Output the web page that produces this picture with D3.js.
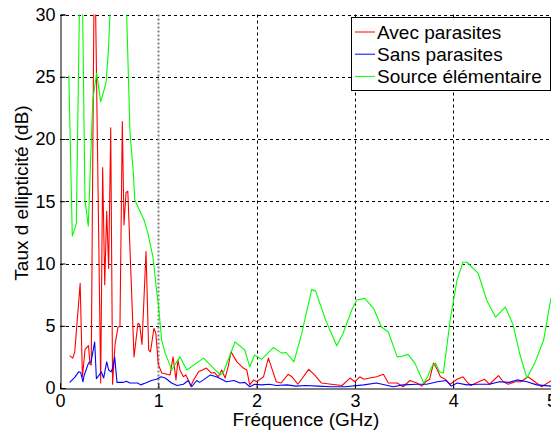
<!DOCTYPE html>
<html>
<head>
<meta charset="utf-8">
<title>Taux d'ellipticité</title>
<script src="https://d3js.org/d3.v7.min.js"></script>
<style>
  body { margin: 0; background: #fff; }
  text { font-family: "Liberation Sans", Arial, sans-serif; }
</style>
</head>
<body>
<script>
// frequencies (GHz) and ellipticity (dB)
var avecParasites = [
  [0.099,2.6],[0.13,2.4],[0.15,2.9],[0.205,8.4],[0.228,0.9],[0.255,3.1],[0.29,3.4],
  [0.305,1.9],[0.318,1.85],[0.345,30.5],[0.362,30.5],[0.414,0.4],[0.434,17.7],
  [0.455,8.3],[0.475,14.2],[0.495,9.6],[0.516,20.9],[0.535,0.3],[0.56,3.5],[0.59,4.9],
  [0.61,4.95],[0.634,21.4],[0.651,13.1],[0.672,15.7],[0.69,15.8],[0.753,2.5],[0.793,5.2],
  [0.81,5.1],[0.834,3.5],[0.875,10.95],[0.902,3.05],[0.92,2.9],[0.956,4.8],[0.975,4.4],
  [1.0,1.9],[1.035,1.2],[1.12,1.05],[1.15,2.5],[1.18,0.65],[1.2,2.25],[1.22,1.45],
  [1.255,0.9],[1.28,1.05],[1.305,0.65],[1.33,0.15],[1.36,0.65],[1.41,1.3],[1.49,1.6],
  [1.54,1.2],[1.57,1.25],[1.61,0.9],[1.645,1.45],[1.68,0.8],[1.71,1.7],[1.74,2.9],
  [1.8,2.1],[1.865,1.6],[1.9,1.45],[1.93,0.25],[1.97,0.65],[2.0,0.5],[2.07,0.9],
  [2.12,2.4],[2.15,1.7],[2.2,0.5],[2.25,0.4],[2.32,1.1],[2.36,0.9],[2.42,0.3],
  [2.53,1.5],[2.59,1.05],[2.66,0.4],[2.76,0.3],[2.87,0.2],[2.95,0.8],[3.0,0.5],
  [3.05,0.9],[3.09,0.7],[3.15,0.8],[3.22,0.9],[3.29,1.1],[3.34,0.4],[3.43,0.4],
  [3.49,0.1],[3.56,0.6],[3.63,0.4],[3.68,0.15],[3.72,0.5],[3.76,0.7],[3.8,2.0],
  [3.83,1.6],[3.87,0.9],[3.92,0.7],[3.97,0.3],[4.04,0.7],[4.1,0.9],[4.15,0.4],
  [4.18,0.2],[4.26,0.5],[4.32,0.7],[4.37,0.3],[4.46,1.0],[4.51,0.5],[4.56,0.3],
  [4.63,0.5],[4.69,0.5],[4.76,0.9],[4.83,0.5],[4.9,0.1],[5.0,0.6]
];

var sansParasites = [
  [0.099,0.45],[0.15,0.85],[0.19,1.3],[0.21,1.25],[0.234,0.5],[0.245,1.0],[0.29,2.0],
  [0.316,2.1],[0.353,3.7],[0.37,0.75],[0.41,1.15],[0.42,1.3],[0.444,0.8],[0.475,2.1],
  [0.495,1.45],[0.52,1.3],[0.54,1.7],[0.556,2.5],[0.58,0.45],[0.64,0.45],[0.675,0.55],
  [0.71,0.4],[0.79,0.4],[0.82,0.25],[0.87,0.4],[0.93,0.6],[0.98,0.7],[1.03,0.9],
  [1.07,0.8],[1.135,0.4],[1.19,0.2],[1.255,0.3],[1.305,0.6],[1.34,0.1],[1.39,0.6],
  [1.42,0.45],[1.46,0.65],[1.53,1.05],[1.59,0.9],[1.645,0.7],[1.69,0.5],[1.77,0.6],
  [1.83,0.4],[1.88,0.45],[1.93,0.1],[1.98,0.3],[2.05,0.25],[2.13,0.3],[2.2,0.2],
  [2.31,0.25],[2.4,0.15],[2.5,0.2],[2.63,0.15],[2.76,0.1],[2.9,0.1],[3.09,0.25],
  [3.22,0.4],[3.39,0.1],[3.49,0.25],[3.63,0.3],[3.73,0.3],[3.84,0.5],[3.93,0.6],
  [3.98,0.15],[4.04,0.4],[4.14,0.25],[4.24,0.3],[4.37,0.3],[4.47,0.5],[4.57,0.45],
  [4.65,0.65],[4.75,0.5],[4.85,0.25],[5.0,0.15]
];

var sourceElementaire = [
  [0.09,25.1],[0.125,12.2],[0.166,13.2],[0.215,40],[0.254,15.1],[0.288,13.0],
  [0.333,23.1],[0.373,25.3],[0.414,23.0],[0.468,24.5],[0.49,26.8],[0.509,30],
  [0.55,38],[0.62,40],[0.678,30],[0.712,20.5],[0.746,17.3],[0.76,15.1],[0.79,14.6],
  [0.855,13.5],[0.895,12.4],[0.946,10.5],[0.983,7.8],[1.0,6.8],[1.035,3.8],[1.07,2.8],
  [1.1,2.2],[1.136,1.45],[1.22,2.5],[1.29,1.45],[1.46,2.4],[1.63,1.05],[1.66,1.2],
  [1.78,3.7],[1.88,3.05],[1.93,1.7],[1.98,2.65],[2.05,2.3],[2.17,3.25],[2.255,2.8],
  [2.3,2.85],[2.38,2.1],[2.46,4.4],[2.56,7.9],[2.6,7.8],[2.7,5.5],[2.815,3.4],
  [2.88,4.4],[2.97,6.3],[3.02,7.07],[3.1,7.2],[3.19,6.4],[3.27,4.9],[3.34,4.5],
  [3.43,2.5],[3.48,2.55],[3.54,2.7],[3.61,2.0],[3.7,0.4],[3.74,0.9],[3.78,1.7],
  [3.82,2.0],[3.86,1.3],[3.9,1.2],[3.97,5.5],[4.04,8.7],[4.1,10.1],[4.14,10.1],
  [4.255,9.2],[4.34,7.07],[4.43,5.7],[4.53,6.5],[4.61,5.06],[4.68,2.65],[4.75,0.8],
  [4.83,2.0],[4.92,3.85],[4.985,6.8],[5.05,9]
];

var seriesNames = ["Avec parasites", "Sans parasites", "Source élémentaire"];
var seriesColors = ["#ff0000", "#0000ff", "#00ff00"];
var xTicks = [0, 1, 2, 3, 4, 5];
var yTicks = [0, 5, 10, 15, 20, 25, 30];

var width = 551, height = 432;
var plot = {left: 60, right: 551.5, top: 14.5, bottom: 388};

var x = d3.scaleLinear().domain([0, 5]).range([plot.left, plot.right]);
var y = d3.scaleLinear().domain([0, 30]).range([plot.bottom, plot.top]);

var svg = d3.select("body").append("svg")
    .attr("width", width)
    .attr("height", height);

svg.append("defs").append("clipPath")
    .attr("id", "plotclip")
    .append("rect")
    .attr("x", plot.left)
    .attr("y", plot.top)
    .attr("width", plot.right - plot.left)
    .attr("height", plot.bottom - plot.top);

//grid
var grid = svg.append("g");
grid.selectAll(".hgrid")
    .data(yTicks.filter(function(d){ return d > 0; }))
    .enter().append("line")
    .attr("x1", plot.left).attr("x2", plot.right)
    .attr("y1", function(d){ return Math.round(y(d)) + 0.5; })
    .attr("y2", function(d){ return Math.round(y(d)) + 0.5; })
    .attr("stroke", "#000").attr("stroke-width", 1)
    .attr("stroke-dasharray", "3,3");

grid.selectAll(".vgrid")
    .data(xTicks.filter(function(d){ return d > 0; }))
    .enter().append("line")
    .attr("x1", function(d){ return Math.round(x(d)) + 0.5; })
    .attr("x2", function(d){ return Math.round(x(d)) + 0.5; })
    .attr("y1", plot.top).attr("y2", plot.bottom)
    .attr("stroke", function(d){ return d == 1 ? "#808080" : "#000"; })
    .attr("stroke-width", function(d){ return d == 1 ? 2 : 1; })
    .attr("stroke-dasharray", function(d){ return d == 1 ? "2,2" : "3,3"; });

//series
var line = d3.line()
    .x(function(d){ return x(d[0]); })
    .y(function(d){ return y(d[1]); });

var allSeries = [avecParasites, sansParasites, sourceElementaire];

svg.append("g")
    .attr("clip-path", "url(#plotclip)")
    .selectAll("path")
    .data(allSeries)
    .enter().append("path")
    .attr("d", line)
    .attr("fill", "none")
    .attr("stroke", function(d, i){ return seriesColors[i]; })
    .attr("stroke-width", 1.1)
    .attr("stroke-linejoin", "round");

//axes
var yAxis = d3.axisLeft(y).tickValues(yTicks).tickFormat(d3.format("d")).tickSize(-5).tickPadding(5);
var xAxis = d3.axisBottom(x).tickValues(xTicks).tickFormat(d3.format("d")).tickSize(-5).tickPadding(5.5);

var gy = svg.append("g")
    .attr("transform", "translate(" + (plot.left + 0.5) + ",0)")
    .call(yAxis);
var gx = svg.append("g")
    .attr("transform", "translate(0," + (plot.bottom + 0.5) + ")")
    .call(xAxis);

[gx, gy].forEach(function(g){
    g.select(".domain").attr("stroke", "#000").attr("stroke-width", 1);
    g.selectAll(".tick line").attr("stroke", "#000");
    g.selectAll(".tick text")
        .attr("fill", "#000")
        .attr("font-size", 18);
});

//axis titles
svg.append("text")
    .attr("x", 306)
    .attr("y", 426)
    .attr("text-anchor", "middle")
    .attr("font-size", 19)
    .text("Fréquence (GHz)");

svg.append("text")
    .attr("transform", "translate(28,193) rotate(-90)")
    .attr("text-anchor", "middle")
    .attr("font-size", 19)
    .text("Taux d ellipticité (dB)");

//legend
var legend = svg.append("g");
legend.append("rect")
    .attr("x", 351.5).attr("y", 17.5)
    .attr("width", 199).attr("height", 73)
    .attr("fill", "#fff").attr("stroke", "#000").attr("stroke-width", 1);

var items = legend.selectAll(".item")
    .data(seriesNames)
    .enter().append("g")
    .attr("transform", function(d, i){ return "translate(0," + (32 + i * 22.2) + ")"; });

items.append("line")
    .attr("x1", 355).attr("x2", 375)
    .attr("y1", 0).attr("y2", 0)
    .attr("stroke", function(d, i){ return seriesColors[i]; })
    .attr("stroke-width", 1);

items.append("text")
    .attr("x", 377)
    .attr("y", 6.5)
    .attr("font-size", 19)
    .text(function(d){ return d; });
</script>
</body>
</html>
